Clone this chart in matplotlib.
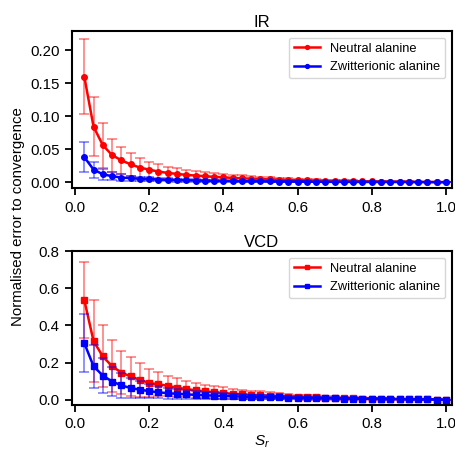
import numpy as np
import matplotlib
matplotlib.use("Agg")
import matplotlib.pyplot as plt

plt.rcParams["font.family"] = ["Liberation Sans", "DejaVu Sans"]
plt.rcParams["mathtext.fontset"] = "custom"
plt.rcParams["mathtext.it"] = "Liberation Sans:italic"
plt.rcParams["mathtext.rm"] = "Liberation Sans"

# sampling ratio
s_r = [0.025 * (i + 1) for i in range(40)]

ir_neutral = [0.160, 0.084, 0.056, 0.041, 0.033, 0.027, 0.022, 0.019, 0.016, 0.014,
              0.0125, 0.011, 0.010, 0.009, 0.008, 0.0072, 0.0065, 0.0058, 0.0052, 0.0047,
              0.0042, 0.0038, 0.0034, 0.0030, 0.0027, 0.0024, 0.0021, 0.0019, 0.0017, 0.0015,
              0.0013, 0.0011, 0.0010, 0.0008, 0.0007, 0.0006, 0.0004, 0.0003, 0.0002, 0.0000]
ir_neutral_err = [0.057, 0.045, 0.034, 0.025, 0.021, 0.017, 0.015, 0.012, 0.011, 0.009,
                  0.0085, 0.0078, 0.007, 0.0064, 0.0058, 0.0052, 0.0047, 0.0043, 0.0039, 0.0036,
                  0.0033, 0.003, 0.0027, 0.0025, 0.0022, 0.002, 0.0018, 0.0016, 0.0014, 0.0012,
                  0.0011, 0.001, 0.0008, 0.0007, 0.0006, 0.0005, 0.0004, 0.0003, 0.0002, 0.0]
ir_zwit = [0.038, 0.019, 0.012, 0.009, 0.007, 0.006, 0.005, 0.0045, 0.004, 0.0035,
           0.0031, 0.0028, 0.0025, 0.0022, 0.002, 0.0018, 0.0016, 0.0014, 0.0013, 0.0012,
           0.0011, 0.001, 0.0009, 0.0008, 0.0007, 0.0006, 0.0005, 0.0005, 0.0004, 0.0004,
           0.0003, 0.0003, 0.0002, 0.0002, 0.0002, 0.0001, 0.0001, 0.0001, 0.0, 0.0]
ir_zwit_err = [0.023, 0.012, 0.008, 0.006, 0.005, 0.004, 0.0035, 0.003, 0.0027, 0.0024,
               0.0021, 0.0019, 0.0017, 0.0015, 0.0013, 0.0012, 0.0011, 0.001, 0.0009, 0.0008,
               0.0007, 0.0006, 0.0006, 0.0005, 0.0005, 0.0004, 0.0004, 0.0003, 0.0003, 0.0003,
               0.0002, 0.0002, 0.0002, 0.0001, 0.0001, 0.0001, 0.0001, 0.0, 0.0, 0.0]

vcd_neutral = [0.537, 0.315, 0.233, 0.180, 0.146, 0.125, 0.107, 0.090, 0.083, 0.075,
               0.064, 0.058, 0.050, 0.045, 0.040, 0.036, 0.032, 0.029, 0.026, 0.024,
               0.021, 0.019, 0.017, 0.015, 0.013, 0.012, 0.010, 0.009, 0.008, 0.007,
               0.006, 0.005, 0.004, 0.0035, 0.003, 0.0025, 0.002, 0.0015, 0.001, 0.0]
vcd_neutral_err = [0.205, 0.22, 0.167, 0.14, 0.117, 0.105, 0.091, 0.078, 0.064, 0.055,
                   0.052, 0.045, 0.04, 0.036, 0.033, 0.03, 0.028, 0.025, 0.023, 0.021,
                   0.019, 0.017, 0.015, 0.013, 0.012, 0.011, 0.01, 0.009, 0.008, 0.007,
                   0.006, 0.005, 0.004, 0.0035, 0.003, 0.0025, 0.002, 0.0015, 0.001, 0.0]
vcd_zwit = [0.305, 0.180, 0.130, 0.098, 0.077, 0.063, 0.054, 0.046, 0.040, 0.035,
            0.032, 0.029, 0.026, 0.024, 0.022, 0.020, 0.018, 0.017, 0.015, 0.014,
            0.013, 0.012, 0.011, 0.010, 0.009, 0.008, 0.0075, 0.007, 0.0065, 0.006,
            0.0055, 0.005, 0.0045, 0.004, 0.0035, 0.003, 0.0025, 0.002, 0.001, 0.0]
vcd_zwit_err = [0.158, 0.116, 0.095, 0.079, 0.069, 0.053, 0.045, 0.038, 0.033, 0.029,
                0.026, 0.023, 0.021, 0.019, 0.017, 0.016, 0.014, 0.013, 0.012, 0.011,
                0.010, 0.009, 0.008, 0.008, 0.007, 0.006, 0.006, 0.005, 0.005, 0.004,
                0.004, 0.003, 0.003, 0.003, 0.002, 0.002, 0.002, 0.001, 0.001, 0.0]

labels = ["Neutral alanine", "Zwitterionic alanine"]


def draw_panel(ax, ys, errs, marker, title, ylim, yticks):
    for y, e, c, lab in zip(ys, errs, ["red", "blue"], labels):
        ax.errorbar(s_r, y, yerr=e, fmt="none", ecolor=c, alpha=0.5,
                    elinewidth=1.2, capsize=3.5, capthick=1.2)
        ax.plot(s_r, y, color=c, marker=marker, markersize=4,
                linewidth=1.8, label=lab)
    ax.set_title(title, fontsize=12, pad=3)
    ax.set_xlim(-0.008, 1.016)
    ax.set_ylim(*ylim)
    ax.set_yticks(yticks)
    ax.set_xticks([0.0, 0.2, 0.4, 0.6, 0.8, 1.0])
    for sp in ax.spines.values():
        sp.set_linewidth(1.5)
    ax.tick_params(width=1.3, length=5, pad=4, labelsize=10.8)
    ax.legend(loc="upper right", fontsize=9.3, handlelength=2.0,
              markerscale=0.7, borderaxespad=0.5)


fig = plt.figure(figsize=(4.56, 4.5), dpi=100)
ax1 = fig.add_axes([0.158, 0.582, 0.833, 0.349])
ax2 = fig.add_axes([0.158, 0.101, 0.833, 0.341])

draw_panel(ax1, [ir_neutral, ir_zwit], [ir_neutral_err, ir_zwit_err], "o",
           "IR", (-0.009, 0.229), [0.0, 0.05, 0.10, 0.15, 0.20])
draw_panel(ax2, [vcd_neutral, vcd_zwit], [vcd_neutral_err, vcd_zwit_err], "s",
           "VCD", (-0.026, 0.8), [0.0, 0.2, 0.4, 0.6, 0.8])

ax2.set_xlabel("$S_r$", fontsize=11, labelpad=2)
fig.text(0.04, 0.518, "Normalised error to convergence", rotation=90,
         va="center", ha="center", fontsize=10.8)

fig.savefig("out.png", dpi=100)
